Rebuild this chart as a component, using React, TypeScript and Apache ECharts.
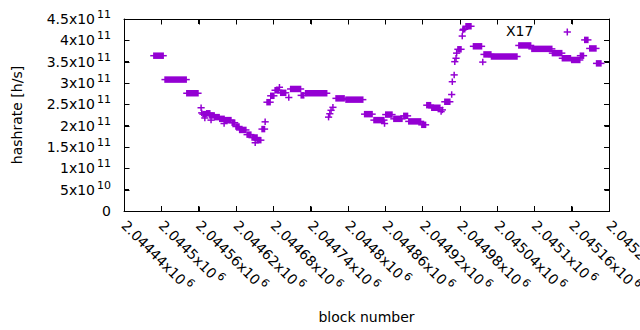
import React, { useEffect, useRef, useState } from 'react';
import * as echarts from 'echarts';

const FONT = '"DejaVu Sans", "Liberation Sans", sans-serif';
const PURPLE = '#9400d3';

const seriesName = 'X17';
const xAxisTitle = 'block number';
const yAxisTitle = 'hashrate [h/s]';

const xMin = 2044440;
const xMax = 2045220;
const xStep = 60;
const yMin = 0;
const yMax = 4.5e11;
const yStep = 0.5e11;

// each run: consecutive blocks [runStart..runEnd] sharing the same hashrate
const runStart = [
  2044488, 2044506, 2044541, 2044564, 2044565, 2044567, 2044570, 2044573, 2044578, 2044580,
  2044586, 2044594, 2044601, 2044602, 2044614, 2044620, 2044626, 2044638, 2044646, 2044651,
  2044654, 2044662, 2044667, 2044670, 2044676, 2044683, 2044690, 2044692, 2044705, 2044708,
  2044725, 2044732, 2044769, 2044771, 2044773, 2044776, 2044781, 2044797, 2044827, 2044842,
  2044859, 2044861, 2044874, 2044890, 2044898, 2044919, 2044927, 2044935, 2044950, 2044952,
  2044956, 2044967, 2044968, 2044971, 2044972, 2044974, 2044975, 2044977, 2044984, 2044985,
  2044986, 2044990, 2045002, 2045017, 2045019, 2045031, 2045075, 2045096, 2045129, 2045145,
  2045160, 2045174, 2045181, 2045189, 2045200,
];
const runEnd = [
  2044503, 2044540, 2044559, 2044564, 2044565, 2044572, 2044570, 2044578, 2044585, 2044580,
  2044593, 2044601, 2044601, 2044612, 2044618, 2044625, 2044636, 2044644, 2044654, 2044651,
  2044660, 2044666, 2044667, 2044675, 2044681, 2044689, 2044690, 2044700, 2044705, 2044724,
  2044729, 2044766, 2044769, 2044771, 2044773, 2044776, 2044794, 2044824, 2044839, 2044858,
  2044859, 2044871, 2044887, 2044896, 2044917, 2044925, 2044933, 2044948, 2044950, 2044952,
  2044964, 2044967, 2044968, 2044971, 2044972, 2044974, 2044975, 2044982, 2044984, 2044985,
  2044988, 2044998, 2045015, 2045017, 2045030, 2045072, 2045094, 2045128, 2045144, 2045158,
  2045173, 2045179, 2045186, 2045199, 2045207,
];
const hashrate = [
  3.64e11, 3.08e11, 2.76e11, 2.42e11, 2.30e11, 2.27e11, 2.18e11, 2.29e11, 2.24e11, 2.13e11,
  2.20e11, 2.16e11, 2.05e11, 2.13e11, 2.07e11, 1.98e11, 1.90e11, 1.79e11, 1.72e11, 1.60e11,
  1.66e11, 1.92e11, 2.09e11, 2.55e11, 2.70e11, 2.83e11, 2.90e11, 2.77e11, 2.66e11, 2.86e11,
  2.71e11, 2.76e11, 2.20e11, 2.28e11, 2.36e11, 2.43e11, 2.64e11, 2.61e11, 2.27e11, 2.13e11,
  2.05e11, 2.26e11, 2.16e11, 2.23e11, 2.10e11, 2.02e11, 2.48e11, 2.42e11, 2.33e11, 2.37e11,
  2.56e11, 2.73e11, 3.03e11, 3.19e11, 3.50e11, 3.58e11, 3.70e11, 3.79e11, 4.10e11, 4.24e11,
  4.26e11, 4.33e11, 3.86e11, 3.49e11, 3.67e11, 3.62e11, 3.88e11, 3.80e11, 3.70e11, 3.58e11,
  3.54e11, 3.64e11, 4.01e11, 3.81e11, 3.46e11,
];

const fmtX = (v: number) => {
  const m = parseFloat((v / 1e6).toFixed(5));
  return `{b|${m}x10}{e|6}`;
};
const fmtY = (v: number) => {
  if (v === 0) return '{b|0}';
  const ex = Math.floor(Math.log10(v) + 1e-9);
  const m = parseFloat((v / Math.pow(10, ex)).toFixed(3));
  return `{b|${m}x10}{e|${ex}}`;
};

type Frame = { L: number; R: number; T: number; B: number; xs: number[]; ys: number[] };

export default function App() {
  const ref = useRef<HTMLDivElement>(null);
  const [frame, setFrame] = useState<Frame | null>(null);
  useEffect(() => {
    if (!ref.current) return;
    const rich: any = {
      b: { fontFamily: FONT, fontSize: 14, color: '#000' },
      e: { fontFamily: FONT, fontSize: 11, color: '#000', padding: [0, 0, 9, 2] },
    };
    const chart = echarts.init(ref.current, undefined, { renderer: 'svg' });
    const data = runStart.map((s, i) => [s, runEnd[i], hashrate[i]]);
    const mkTick = () => ({ show: true, inside: true, length: 5, lineStyle: { color: '#000', width: 1 } });
    const mkLine = () => ({ show: true, onZero: false, lineStyle: { color: '#000', width: 1 } });
    const nameStyle = { fontFamily: FONT, fontSize: 14, color: '#000' };

    chart.setOption({
      animation: false,
      backgroundColor: '#fff',
      grid: { left: 124, right: 31, top: 19, bottom: 119, outerBoundsMode: 'none' },
      xAxis: [
        {
          type: 'value', min: xMin, max: xMax, interval: xStep, position: 'bottom',
          axisLine: mkLine(), axisTick: mkTick(), splitLine: { show: false },
          axisLabel: { rotate: -45, margin: 12, formatter: fmtX, rich },
          name: xAxisTitle, nameLocation: 'middle', nameGap: 99, nameTextStyle: nameStyle,
        },
        {
          type: 'value', min: xMin, max: xMax, interval: xStep, position: 'top',
          axisLine: mkLine(), axisTick: mkTick(), splitLine: { show: false },
          axisLabel: { show: false },
        },
      ],
      yAxis: [
        {
          type: 'value', min: yMin, max: yMax, interval: yStep, position: 'left',
          axisLine: mkLine(), axisTick: mkTick(), splitLine: { show: false },
          axisLabel: { margin: 13, formatter: fmtY, rich },
          name: yAxisTitle, nameLocation: 'middle', nameGap: 100, nameTextStyle: nameStyle,
        },
        {
          type: 'value', min: yMin, max: yMax, interval: yStep, position: 'right',
          axisLine: mkLine(), axisTick: mkTick(), splitLine: { show: false },
          axisLabel: { show: false },
        },
      ],
      graphic: [
        { type: 'text', x: 506, y: 24, style: { text: seriesName, font: `14px ${FONT}`, fill: '#000' } },
        { type: 'line', shape: { x1: 563.7, y1: 32, x2: 570.9, y2: 32 }, style: { stroke: PURPLE, lineWidth: 1.5 } },
        { type: 'line', shape: { x1: 567.3, y1: 28.5, x2: 567.3, y2: 35.5 }, style: { stroke: PURPLE, lineWidth: 1.5 } },
      ],
      series: [
        {
          type: 'custom',
          name: seriesName,
          data,
          encode: { x: [0, 1], y: 2 },
          z: 2,
          renderItem: (_params: any, api: any) => {
            const a = api.coord([api.value(0), api.value(2)]);
            const b = api.coord([api.value(1), api.value(2)]);
            return {
              type: 'group',
              children: [
                {
                  type: 'rect',
                  shape: { x: a[0] - 0.75, y: a[1] - 3.25, width: b[0] - a[0] + 1.5, height: 6.5 },
                  style: { fill: PURPLE },
                },
                {
                  type: 'line',
                  shape: { x1: a[0] - 3.6, y1: a[1], x2: b[0] + 3.6, y2: b[1] },
                  style: { stroke: PURPLE, lineWidth: 1.5 },
                },
              ],
            };
          },
        },
      ],
    });

    // frame and mirrored ticks, positioned with the chart's own axis scales
    const px = (v: number) => chart.convertToPixel({ xAxisIndex: 0 }, v) as number;
    const py = (v: number) => chart.convertToPixel({ yAxisIndex: 0 }, v) as number;
    const xs: number[] = [];
    for (let x = xMin; x <= xMax; x += xStep) xs.push(Math.round(px(x)) + 0.5);
    const ys: number[] = [];
    for (let y = yMin; y <= yMax + 1; y += yStep) ys.push(Math.round(py(y)) + 0.5);
    setFrame({
      L: Math.round(px(xMin)) + 0.5,
      R: Math.round(px(xMax)) + 0.5,
      T: Math.round(py(yMax)) + 0.5,
      B: Math.round(py(yMin)) + 0.5,
      xs,
      ys,
    });
    return () => chart.dispose();
  }, []);
  return (
    <div>
      <div
        ref={ref}
        style={{ position: 'fixed', left: 0, top: 0, width: 640, height: 330, background: '#fff' }}
      />
      {frame && (
        <svg
          width={640}
          height={330}
          style={{ position: 'fixed', left: 0, top: 0, pointerEvents: 'none' }}
        >
          <rect
            x={frame.L}
            y={frame.T}
            width={frame.R - frame.L}
            height={frame.B - frame.T}
            fill="none"
            stroke="#000"
            strokeWidth={1}
          />
          {frame.xs.map((x, i) => (
            <g key={'x' + i}>
              <line x1={x} y1={frame.B} x2={x} y2={frame.B - 5} stroke="#000" strokeWidth={1} />
              <line x1={x} y1={frame.T} x2={x} y2={frame.T + 5} stroke="#000" strokeWidth={1} />
            </g>
          ))}
          {frame.ys.map((y, i) => (
            <g key={'y' + i}>
              <line x1={frame.L} y1={y} x2={frame.L + 5} y2={y} stroke="#000" strokeWidth={1} />
              <line x1={frame.R} y1={y} x2={frame.R - 5} y2={y} stroke="#000" strokeWidth={1} />
            </g>
          ))}
        </svg>
      )}
    </div>
  );
}
